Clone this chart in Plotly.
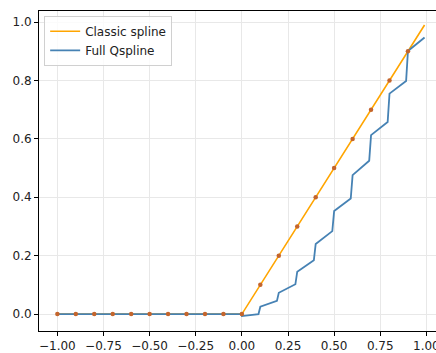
import plotly.graph_objects as go

# Classic spline
classic_x = [-1.0, 0.0, 0.99]
classic_y = [0.0, 0.0, 0.99]

# Full Qspline
q_x = [-1.0, -0.005, 0.0, 0.09, 0.1, 0.19, 0.2, 0.29, 0.3, 0.39, 0.4, 0.49, 0.5,
       0.59, 0.6, 0.69, 0.7, 0.79, 0.8, 0.89, 0.9, 0.99]
q_y = [0.0, 0.0, -0.007, 0.0, 0.025, 0.045, 0.073, 0.102, 0.145, 0.184, 0.24, 0.284,
       0.353, 0.396, 0.476, 0.525, 0.613, 0.658, 0.755, 0.798, 0.901, 0.947]

# Knot points
knot_x = [-1.0, -0.9, -0.8, -0.7, -0.6, -0.5, -0.4, -0.3, -0.2, -0.1,
          0.0, 0.1, 0.2, 0.3, 0.4, 0.5, 0.6, 0.7, 0.8, 0.9]
knot_y = [0.0, 0.0, 0.0, 0.0, 0.0, 0.0, 0.0, 0.0, 0.0, 0.0,
          0.0, 0.1, 0.2, 0.3, 0.4, 0.5, 0.6, 0.7, 0.8, 0.9]

x_ticks = [-1.0, -0.75, -0.5, -0.25, 0.0, 0.25, 0.5, 0.75, 1.0]
y_ticks = [0.0, 0.2, 0.4, 0.6, 0.8, 1.0]

fig = go.Figure()
fig.add_trace(go.Scatter(x=classic_x, y=classic_y, mode="lines", name="Classic spline",
                         line=dict(color="#FFA500", width=1.6)))
fig.add_trace(go.Scatter(x=q_x, y=q_y, mode="lines", name="Full Qspline",
                         line=dict(color="#4682b4", width=1.8)))
fig.add_trace(go.Scatter(x=knot_x, y=knot_y, mode="markers", showlegend=False,
                         marker=dict(color="#c4652c", size=4.5, line=dict(width=0))))

font = dict(family="DejaVu Sans", size=12, color="#222222")
fig.update_layout(
    width=436, height=353,
    margin=dict(l=39, r=0, t=11, b=22),
    paper_bgcolor="white", plot_bgcolor="white",
    font=font,
    showlegend=True,
    legend=dict(x=0.013, y=0.985, xanchor="left", yanchor="top",
                bgcolor="rgba(255,255,255,0.8)", bordercolor="#d0d0d0", borderwidth=1,
                font=dict(family="DejaVu Sans", size=12, color="#222222"),
                tracegroupgap=0, itemwidth=30),
)
fig.update_xaxes(range=[-1.0995, 1.052], tickvals=x_ticks, tickformat=".2f",
                 showgrid=True, gridcolor="#e8e8e8", gridwidth=1, zeroline=False,
                 showline=True, linecolor="black", linewidth=1, mirror=True,
                 ticks="outside", ticklen=4, tickcolor="black", tickfont=font,
                 ticklabeloverflow="allow", automargin=False)
fig.update_yaxes(range=[-0.058, 1.038], tickvals=y_ticks, tickformat=".1f",
                 showgrid=True, gridcolor="#e8e8e8", gridwidth=1, zeroline=False,
                 showline=True, linecolor="black", linewidth=1, mirror=True,
                 ticks="outside", ticklen=4, tickcolor="black", tickfont=font,
                 automargin=False)

fig.write_html("out.html")
